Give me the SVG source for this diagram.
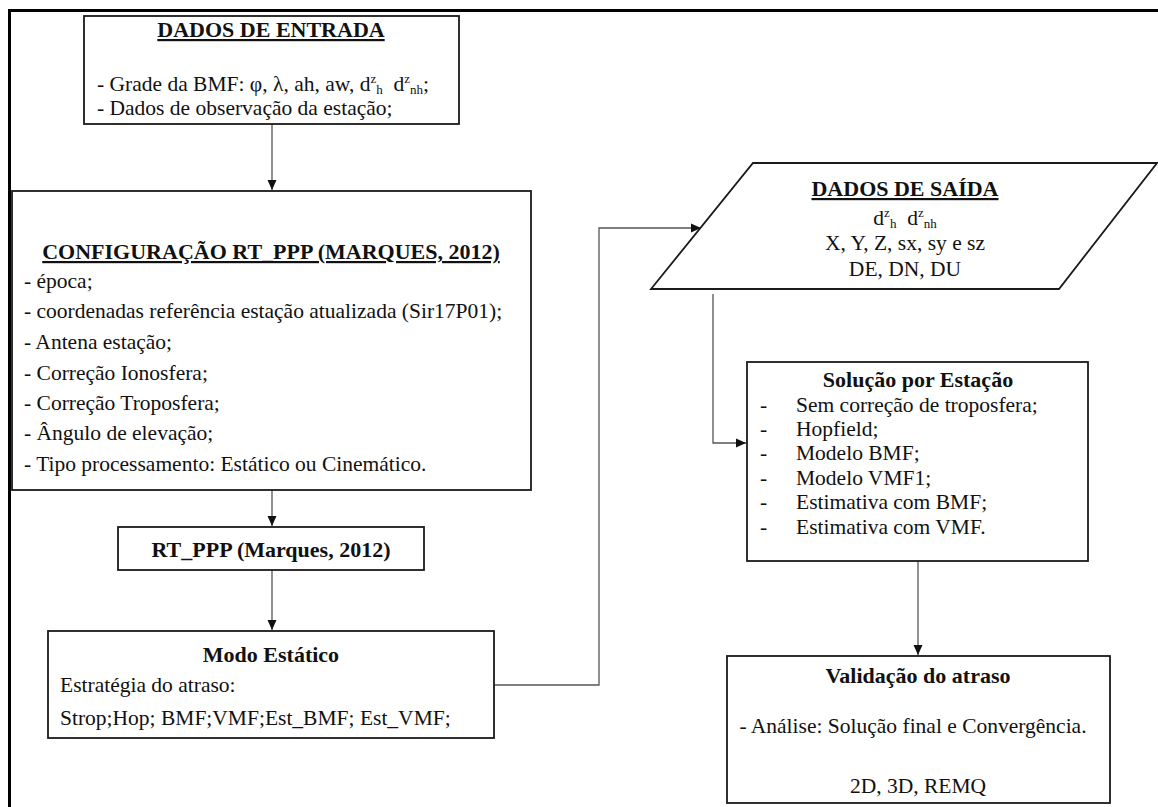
<svg xmlns="http://www.w3.org/2000/svg" width="1158" height="807" viewBox="0 0 1158 807">
<defs>
<marker id="ah" markerWidth="10" markerHeight="10" refX="10" refY="5" orient="auto" markerUnits="userSpaceOnUse">
<path d="M0,0.5 L10,5 L0,9.5 z" fill="#111"/>
</marker>
<style>
text{font-family:"Liberation Serif","Times New Roman",serif;font-size:21.5px;fill:#111}
.b{font-weight:bold;font-size:22px}
.u{text-decoration:underline}
.m{text-anchor:middle}
.box{fill:#fff;stroke:#1a1a1a;stroke-width:1.8}
.c{fill:none;stroke:#555;stroke-width:1.3}
.s{font-size:13px}
</style>
</defs>
<rect width="1158" height="807" fill="#fff"/>
<rect x="9.5" y="10.5" width="1250" height="900" fill="none" stroke="#000" stroke-width="3"/>

<g id="connectors">
<path class="c" d="M272,124 V190" marker-end="url(#ah)"/>
<path class="c" d="M272,490 V526" marker-end="url(#ah)"/>
<path class="c" d="M272,570 V630" marker-end="url(#ah)"/>
<path class="c" d="M494,685 H599 V228 H701" marker-end="url(#ah)"/>
<path class="c" d="M713,294 V443 H746" marker-end="url(#ah)"/>
<path class="c" d="M918,561 V655" marker-end="url(#ah)"/>
</g>

<g id="entrada">
<rect class="box" x="84" y="16" width="375" height="108"/>
<text class="b u m" x="271" y="37">DADOS DE ENTRADA</text>
<text x="97" y="91">- Grade da BMF: φ, λ, ah, aw, d<tspan class="s" dy="-8">z</tspan><tspan class="s" dy="11">h</tspan><tspan dy="-3">&#160;&#160;d</tspan><tspan class="s" dy="-8">z</tspan><tspan class="s" dy="11">nh</tspan><tspan dy="-3">;</tspan></text>
<text x="97" y="115">- Dados de observação da estação;</text>
</g>

<g id="config">
<rect class="box" x="12" y="191" width="519" height="299"/>
<text class="b u m" x="271" y="259">CONFIGURAÇÃO RT_PPP (MARQUES, 2012)</text>
<text x="24" y="288">- época;</text>
<text x="24" y="318">- coordenadas referência estação atualizada (Sir17P01);</text>
<text x="24" y="349">- Antena estação;</text>
<text x="24" y="380">- Correção Ionosfera;</text>
<text x="24" y="410">- Correção Troposfera;</text>
<text x="24" y="440">- Ângulo de elevação;</text>
<text x="24" y="471">- Tipo processamento: Estático ou Cinemático.</text>
</g>

<g id="rtppp">
<rect class="box" x="118" y="527" width="306" height="43"/>
<text class="b m" x="271" y="557">RT_PPP (Marques, 2012)</text>
</g>

<g id="modo">
<rect class="box" x="48" y="631" width="446" height="107"/>
<text class="b m" x="271" y="662">Modo Estático</text>
<text x="60" y="692">Estratégia do atraso:</text>
<text x="60" y="725">Strop;Hop; BMF;VMF;Est_BMF; Est_VMF;</text>
</g>

<g id="saida">
<polygon class="box" points="753,163 1157,163 1059,289 651,289"/>
<text class="b u m" x="905" y="196">DADOS DE SAÍDA</text>
<text class="m" x="905" y="225">d<tspan class="s" dy="-8">z</tspan><tspan class="s" dy="11">h</tspan><tspan dy="-3">&#160;&#160;d</tspan><tspan class="s" dy="-8">z</tspan><tspan class="s" dy="11">nh</tspan></text>
<text class="m" x="905" y="250">X, Y, Z, sx, sy e sz</text>
<text class="m" x="905" y="276">DE, DN, DU</text>
</g>

<g id="solucao">
<rect class="box" x="747" y="362" width="341" height="199"/>
<text class="b m" x="918" y="387">Solução por Estação</text>
<text x="760" y="412">-</text><text x="796" y="412">Sem correção de troposfera;</text>
<text x="760" y="436">-</text><text x="796" y="436">Hopfield;</text>
<text x="760" y="460">-</text><text x="796" y="460">Modelo BMF;</text>
<text x="760" y="485">-</text><text x="796" y="485">Modelo VMF1;</text>
<text x="760" y="509">-</text><text x="796" y="509">Estimativa com BMF;</text>
<text x="760" y="534">-</text><text x="796" y="534">Estimativa com VMF.</text>
</g>

<g id="validacao">
<rect class="box" x="727" y="656" width="383" height="147"/>
<text class="b m" x="918" y="683">Validação do atraso</text>
<text class="m" x="913" y="733">- Análise: Solução final e Convergência.</text>
<text class="m" x="918" y="793">2D, 3D, REMQ</text>
</g>
</svg>
